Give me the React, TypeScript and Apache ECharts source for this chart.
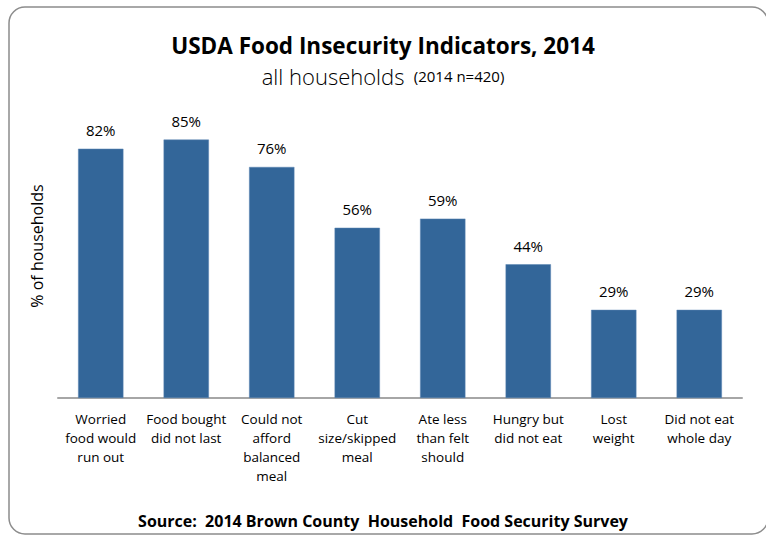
import React, { useEffect, useRef } from "react";
import * as echarts from "echarts";

const categories = [
  "Worried\nfood would\nrun out",
  "Food bought\ndid not last",
  "Could not\nafford\nbalanced\nmeal",
  "Cut\nsize/skipped\nmeal",
  "Ate less\nthan felt\nshould",
  "Hungry but\ndid not eat",
  "Lost\nweight",
  "Did not eat\nwhole day",
];
const values = [82, 85, 76, 56, 59, 44, 29, 29];
const titleText = "USDA Food Insecurity Indicators, 2014";
const subtitleMain = "all households";
const subtitleNote = "(2014 n=420)";
const sourceText = "Source:  2014 Brown County  Household  Food Security Survey";
const yAxisName = "% of households";

const FONT = "'Open Sans', 'Noto Sans', sans-serif";

export default function App() {
  const ref = useRef<HTMLDivElement>(null);
  useEffect(() => {
    if (!ref.current) return;
    const chart = echarts.init(ref.current, null, { renderer: "svg" });
    chart.setOption({
      animation: false,
      backgroundColor: "#ffffff",
      textStyle: { fontFamily: FONT },
      title: [
        {
          text: titleText,
          left: "center",
          top: 29,
          textStyle: { fontFamily: FONT, fontSize: 22.5, fontWeight: "bold", color: "#000" },
        },
        {
          text: "{a|" + subtitleMain + "}  {b|" + subtitleNote + "}",
          left: "center",
          top: 60,
          textStyle: {
            fontWeight: "normal",
            rich: {
              a: { fontFamily: FONT, fontSize: 22, fontWeight: 300, color: "#000" },
              b: { fontFamily: FONT, fontSize: 15, fontWeight: "normal", color: "#000" },
            },
          },
        },
        {
          text: sourceText,
          left: "center",
          top: 508,
          textStyle: { fontFamily: FONT, fontSize: 16, fontWeight: "bold", color: "#000" },
        },
      ],
      graphic: [
        {
          type: "rect",
          shape: { x: 9, y: 7, width: 759, height: 527, r: 16 },
          style: { fill: "none", stroke: "#8c8c8c", lineWidth: 1.5 },
          silent: true,
        },
      ],
      grid: { left: 58, right: 24, top: 94, bottom: 140 },
      xAxis: {
        type: "category",
        data: categories,
        axisLine: { lineStyle: { color: "#a6a6a6", width: 2 } },
        axisTick: { show: false },
        axisLabel: {
          interval: 0,
          fontFamily: FONT,
          fontSize: 13.5,
          lineHeight: 19,
          color: "#000",
          margin: 11,
        },
      },
      yAxis: {
        type: "value",
        min: 0,
        max: 100,
        axisLabel: { show: false },
        axisLine: { show: false },
        axisTick: { show: false },
        splitLine: { show: false },
        name: yAxisName,
        nameLocation: "middle",
        nameGap: 13,
        nameRotate: 90,
        nameTextStyle: { fontFamily: FONT, fontSize: 16, color: "#000" },
      },
      series: [
        {
          type: "bar",
          data: values,
          barWidth: "53%",
          itemStyle: { color: "#336699", borderColor: "#5a85b3", borderWidth: 0.5 },
          label: {
            show: true,
            position: "top",
            distance: 11,
            formatter: "{c}%",
            fontFamily: FONT,
            fontSize: 15,
            color: "#000",
          },
        },
      ],
    });
    return () => chart.dispose();
  }, []);
  return (
    <div
      ref={ref}
      style={{ position: "fixed", left: 0, top: 0, width: 766, height: 538 }}
    />
  );
}
